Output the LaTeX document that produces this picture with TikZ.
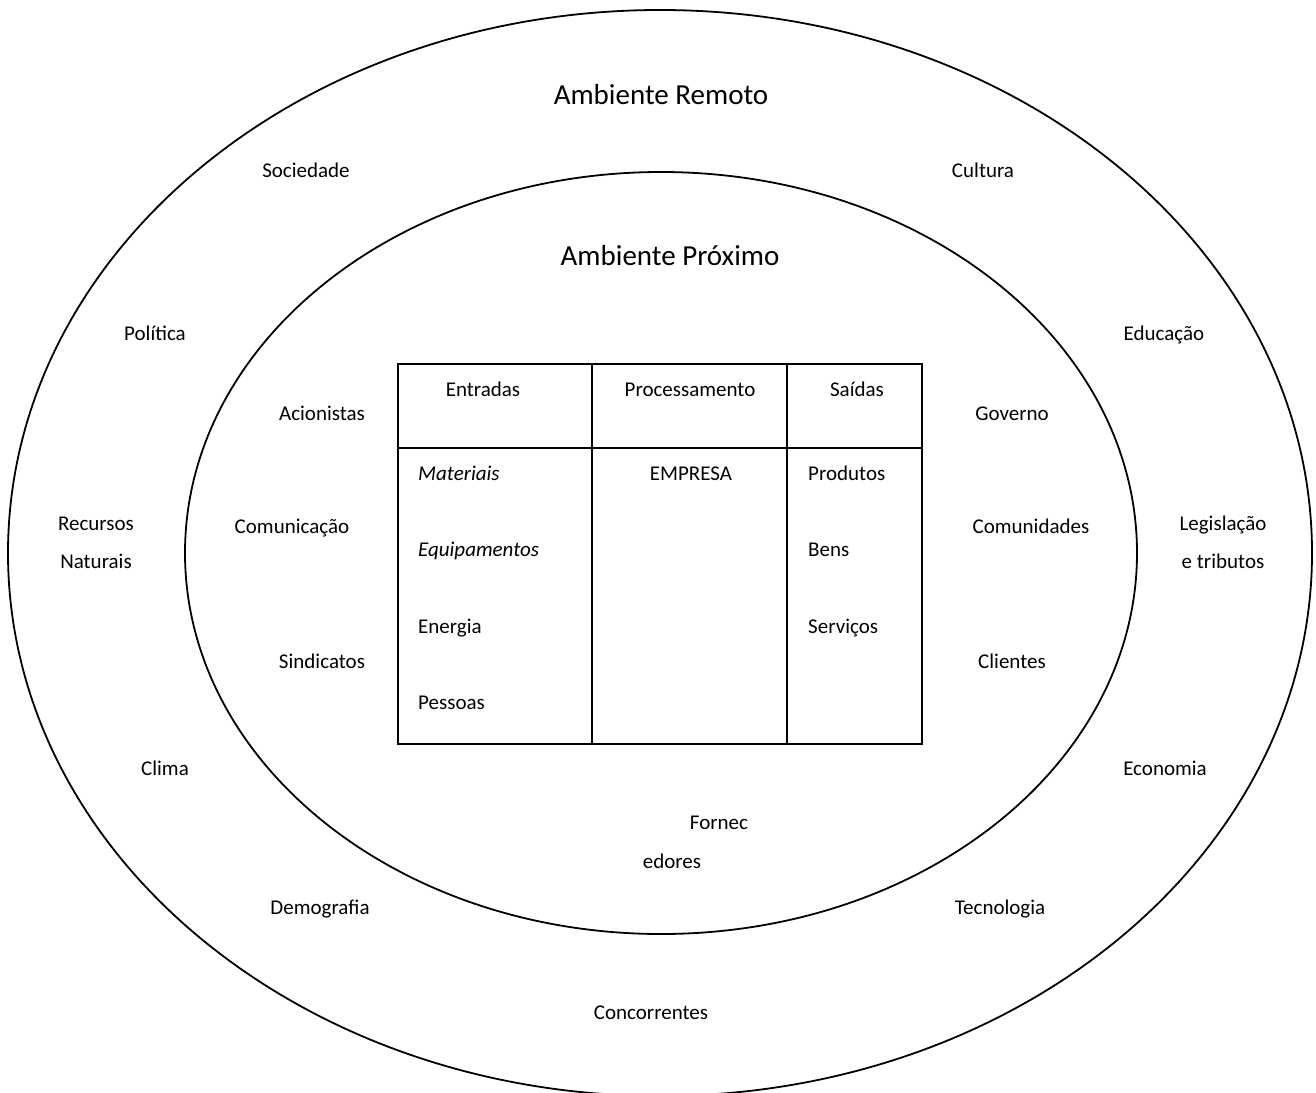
\documentclass[tikz,border=0pt]{standalone}
\usepackage{fontspec}
\setmainfont{Carlito}
\begin{document}
\begin{tikzpicture}[x=1pt,y=-1pt,
  lbl/.style={inner sep=0pt,text height=14pt,text depth=0pt,font=\fontsize{21}{25}\selectfont},
  lft/.style={lbl,anchor=west},
  big/.style={inner sep=0pt,text height=20pt,text depth=2pt,font=\fontsize{29}{34}\selectfont},
  ring/.style={draw=black,line width=1.8pt},
  tbl/.style={draw=black,line width=2.2pt}]
\useasboundingbox (0,0) rectangle (1316,1092);
\clip (0,0) rectangle (1316,1092);
% ellipses
\draw[ring] (660,553) ellipse [x radius=652, y radius=543];
\draw[ring] (661,553) ellipse [x radius=476, y radius=381];
% table
\coordinate (t1) at (398,364);
\coordinate (t2) at (922,744);
\draw[tbl] (t1) rectangle (t2);
\coordinate (h1) at (398,448);
\coordinate (h2) at (922,448);
\draw[tbl] (h1) -- (h2);
\coordinate (c1a) at (592,364);
\coordinate (c1b) at (592,744);
\draw[tbl] (c1a) -- (c1b);
\coordinate (c2a) at (787,364);
\coordinate (c2b) at (787,744);
\draw[tbl] (c2a) -- (c2b);
% titles
\node[big] (remoto) at (661,95) {Ambiente Remoto};
\node[big] (proximo) at (670,256) {Ambiente Próximo};
% outer ring labels
\node[lbl] (soc) at (306,170) {Sociedade};
\node[lbl] (cul) at (983,170) {Cultura};
\node[lbl] (pol) at (155,333) {Política};
\node[lbl] (edu) at (1164,333) {Educação};
\node[lbl] (rec1) at (96,523) {Recursos};
\node[lbl] (rec2) at (96,561) {Naturais};
\node[lbl] (leg1) at (1223,523) {Legislação};
\node[lbl] (leg2) at (1223,561) {e tributos};
\node[lbl] (cli) at (165,768) {Clima};
\node[lbl] (eco) at (1165,768) {Economia};
\node[lbl] (dem) at (320,907) {Demografia};
\node[lbl] (tec) at (1000,907) {Tecnologia};
\node[lbl] (con) at (651,1012) {Concorrentes};
% inner ring labels
\node[lbl] (aci) at (322,413) {Acionistas};
\node[lbl] (gov) at (1012,413) {Governo};
\node[lbl] (com) at (292,526) {Comunicação};
\node[lbl] (cmd) at (1031,526) {Comunidades};
\node[lbl] (sin) at (322,661) {Sindicatos};
\node[lbl] (clt) at (1012,661) {Clientes};
\node[lbl] (for1) at (719,822) {Fornec};
\node[lbl] (for2) at (672,861) {edores};
% table header
\node[lbl] (ent) at (483,389) {Entradas};
\node[lbl] (pro) at (690,389) {Processamento};
\node[lbl] (sai) at (857,389) {Saídas};
% table body
\node[lft] (mat) at (418,473) {\itshape Materiais};
\node[lft] (equ) at (418,549) {\itshape Equipamentos};
\node[lft] (ene) at (418,626) {Energia};
\node[lft] (pes) at (418,702) {Pessoas};
\node[lbl] (emp) at (691,473) {EMPRESA};
\node[lft] (prd) at (808,473) {Produtos};
\node[lft] (ben) at (808,549) {Bens};
\node[lft] (ser) at (808,626) {Serviços};
\end{tikzpicture}
\end{document}
